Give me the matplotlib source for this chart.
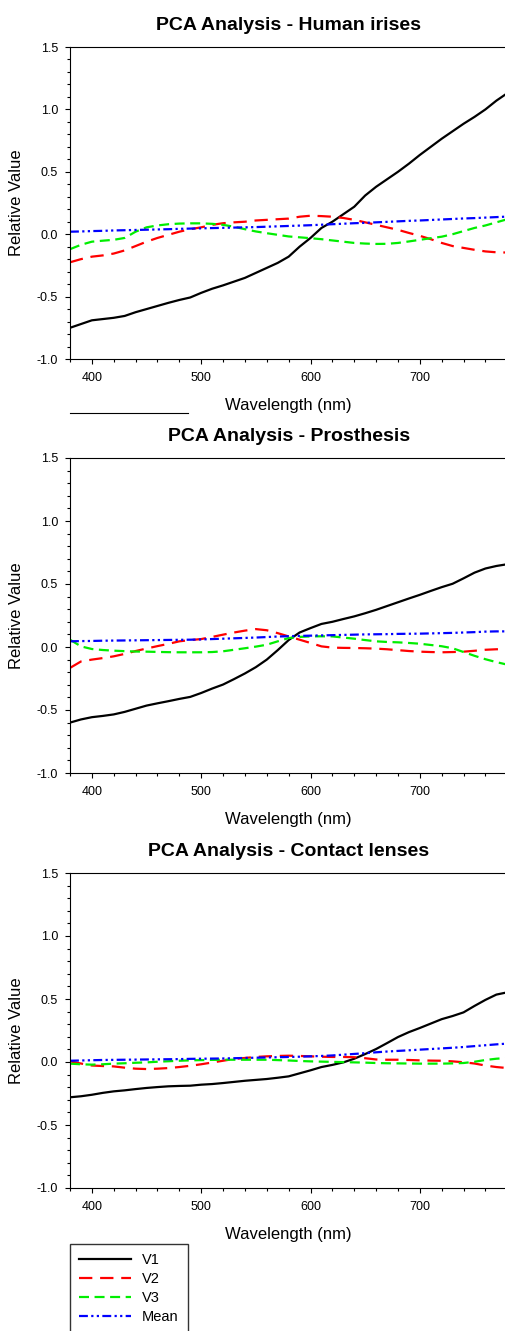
import matplotlib
matplotlib.use('Agg')
import matplotlib.pyplot as plt
from matplotlib.lines import Line2D
from matplotlib.ticker import MultipleLocator

plt.rcParams['font.family'] = ['Liberation Sans', 'DejaVu Sans']

wavelength = list(range(380, 781, 10))

# Human irises
iris_v1 = [-0.75, -0.72, -0.69, -0.68, -0.67, -0.655, -0.625, -0.60, -0.575, -0.55,
           -0.527, -0.507, -0.47, -0.437, -0.41, -0.38, -0.35, -0.31, -0.27, -0.23,
           -0.18, -0.10, -0.03, 0.05, 0.10, 0.16, 0.22, 0.31, 0.38, 0.44,
           0.50, 0.565, 0.635, 0.70, 0.765, 0.825, 0.885, 0.94, 1.00, 1.07, 1.13]
iris_v2 = [-0.225, -0.20, -0.18, -0.17, -0.155, -0.13, -0.095, -0.06, -0.03, -0.005,
           0.02, 0.04, 0.055, 0.075, 0.088, 0.095, 0.10, 0.11, 0.115, 0.12,
           0.125, 0.14, 0.148, 0.145, 0.14, 0.13, 0.115, 0.095, 0.075, 0.055,
           0.035, 0.01, -0.013, -0.04, -0.07, -0.095, -0.11, -0.125, -0.138, -0.145, -0.147]
iris_v3 = [-0.12, -0.085, -0.06, -0.052, -0.045, -0.03, 0.02, 0.055, 0.07, 0.08,
           0.085, 0.087, 0.087, 0.083, 0.075, 0.06, 0.04, 0.022, 0.008, -0.005,
           -0.018, -0.025, -0.032, -0.04, -0.05, -0.06, -0.07, -0.075, -0.078, -0.077,
           -0.07, -0.058, -0.045, -0.032, -0.02, 0.0, 0.025, 0.05, 0.07, 0.095, 0.12]
iris_mean = [0.020, 0.022, 0.025, 0.027, 0.030, 0.032, 0.034, 0.036, 0.038, 0.040,
             0.043, 0.045, 0.047, 0.049, 0.051, 0.053, 0.055, 0.057, 0.060, 0.063,
             0.066, 0.069, 0.072, 0.076, 0.080, 0.084, 0.088, 0.091, 0.095, 0.099,
             0.103, 0.107, 0.110, 0.114, 0.118, 0.122, 0.126, 0.129, 0.133, 0.137, 0.141]

# Prosthesis
pros_v1 = [-0.60, -0.575, -0.557, -0.547, -0.535, -0.515, -0.49, -0.465, -0.447, -0.43,
           -0.412, -0.396, -0.365, -0.33, -0.298, -0.255, -0.21, -0.16, -0.10, -0.025,
           0.055, 0.115, 0.15, 0.183, 0.20, 0.222, 0.243, 0.268, 0.295, 0.325,
           0.355, 0.385, 0.414, 0.445, 0.475, 0.502, 0.545, 0.59, 0.623, 0.643, 0.657]
pros_v2 = [-0.166, -0.115, -0.10, -0.088, -0.074, -0.055, -0.032, -0.012, 0.007, 0.025,
           0.045, 0.055, 0.063, 0.08, 0.098, 0.115, 0.13, 0.142, 0.133, 0.11,
           0.084, 0.058, 0.032, 0.005, -0.005, -0.007, -0.008, -0.01, -0.013, -0.018,
           -0.025, -0.032, -0.037, -0.04, -0.042, -0.04, -0.037, -0.03, -0.022, -0.018, -0.016]
pros_v3 = [0.058, 0.005, -0.016, -0.024, -0.029, -0.033, -0.036, -0.037, -0.039, -0.041,
           -0.042, -0.042, -0.042, -0.04, -0.034, -0.022, -0.01, 0.003, 0.018, 0.045,
           0.071, 0.08, 0.084, 0.085, 0.084, 0.075, 0.066, 0.055, 0.045, 0.04,
           0.037, 0.032, 0.026, 0.016, 0.006, -0.01, -0.04, -0.07, -0.097, -0.12, -0.14]
pros_mean = [0.045, 0.047, 0.048, 0.050, 0.051, 0.052, 0.053, 0.054, 0.055, 0.056,
             0.057, 0.058, 0.060, 0.063, 0.066, 0.069, 0.072, 0.075, 0.079, 0.083,
             0.086, 0.088, 0.090, 0.092, 0.094, 0.096, 0.098, 0.100, 0.101, 0.102,
             0.104, 0.105, 0.106, 0.108, 0.110, 0.112, 0.115, 0.118, 0.122, 0.124, 0.124]

# Contact lenses
lens_v1 = [-0.28, -0.272, -0.26, -0.245, -0.233, -0.225, -0.215, -0.206, -0.199, -0.193,
           -0.19, -0.188, -0.18, -0.175, -0.167, -0.158, -0.149, -0.142, -0.135, -0.125,
           -0.114, -0.09, -0.066, -0.04, -0.023, -0.003, 0.026, 0.063, 0.103, 0.15,
           0.198, 0.237, 0.27, 0.305, 0.34, 0.365, 0.394, 0.445, 0.493, 0.535, 0.553]
lens_v2 = [0.005, -0.012, -0.028, -0.032, -0.035, -0.045, -0.053, -0.056, -0.053, -0.048,
           -0.04, -0.03, -0.018, -0.004, 0.01, 0.024, 0.032, 0.04, 0.045, 0.048,
           0.05, 0.048, 0.045, 0.042, 0.04, 0.04, 0.038, 0.03, 0.02, 0.018,
           0.018, 0.016, 0.013, 0.011, 0.01, 0.005, -0.002, -0.012, -0.028, -0.04, -0.048]
lens_v3 = [-0.013, -0.018, -0.021, -0.018, -0.013, -0.01, -0.006, -0.003, 0.002, 0.006,
           0.01, 0.013, 0.015, 0.017, 0.018, 0.018, 0.018, 0.018, 0.018, 0.015,
           0.012, 0.008, 0.005, 0.003, 0.001, -0.001, -0.003, -0.005, -0.008, -0.01,
           -0.011, -0.012, -0.013, -0.013, -0.013, -0.011, -0.008, 0.002, 0.016, 0.026, 0.032]
lens_mean = [0.010, 0.012, 0.014, 0.016, 0.017, 0.018, 0.019, 0.020, 0.021, 0.022,
             0.023, 0.025, 0.026, 0.027, 0.028, 0.030, 0.032, 0.034, 0.036, 0.038,
             0.040, 0.042, 0.045, 0.048, 0.052, 0.058, 0.064, 0.070, 0.077, 0.083,
             0.088, 0.093, 0.098, 0.103, 0.108, 0.113, 0.119, 0.126, 0.133, 0.140, 0.146]

titles = ['PCA Analysis - Human irises', 'PCA Analysis - Prosthesis',
          'PCA Analysis - Contact lenses']
panels = [(iris_v1, iris_v2, iris_v3, iris_mean),
          (pros_v1, pros_v2, pros_v3, pros_mean),
          (lens_v1, lens_v2, lens_v3, lens_mean)]
labels = ['V1', 'V2', 'V3', 'Mean']

styles = [dict(color='black', ls='-'),
          dict(color='#ff0000', dashes=(6, 3.5)),
          dict(color='#00ee00', dashes=(4.5, 2.5)),
          dict(color='#0000ff', dashes=(4, 1.5, 1, 1.5, 1, 1.5))]

W, H = 505, 1331
fig = plt.figure(figsize=(W / 100, H / 100), dpi=100)

# axes boxes in pixels: (top, bottom)
boxes = [(47, 359), (458, 773), (873, 1188)]
left_px, right_px = 70, 507.3

for (top, bot), title, series in zip(boxes, titles, panels):
    ax = fig.add_axes([left_px / W, 1 - bot / H, (right_px - left_px) / W, (bot - top) / H])
    handles = []
    for y, lab, st in zip(series, labels, styles):
        h, = ax.plot(wavelength, y, lw=1.6, label=lab, **st)
        handles.append(h)
    ax.set_xlim(380, 780)
    ax.set_ylim(-1.0, 1.5)
    ax.xaxis.set_major_locator(MultipleLocator(100))
    ax.xaxis.set_minor_locator(MultipleLocator(20))
    ax.yaxis.set_major_locator(MultipleLocator(0.5))
    ax.yaxis.set_minor_locator(MultipleLocator(0.1))
    ax.yaxis.set_major_formatter(matplotlib.ticker.FormatStrFormatter('%.1f'))
    ax.tick_params(which='major', direction='out', length=3.5, width=0.8,
                   labelsize=9, pad=5)
    ax.tick_params(which='minor', direction='out', length=2, width=0.8)
    ax.tick_params(axis='x', pad=6)
    for sp in ax.spines.values():
        sp.set_linewidth(0.8)
    ax.set_title(title, fontsize=14, fontweight='bold', pad=12)
    ax.set_xlabel('Wavelength (nm)', fontsize=12, labelpad=10)
    ax.set_ylabel('Relative Value', fontsize=12, labelpad=9)

fig.legend(handles, labels, loc='upper left',
           bbox_to_anchor=(left_px / W, 1 - 1244 / H), fontsize=10.5,
           frameon=True, fancybox=False, edgecolor='#333333', framealpha=1,
           handlelength=3.55, handletextpad=0.8, borderpad=0.6, labelspacing=0.35,
           borderaxespad=0)

# stray frame edge under the top panel
fig.add_artist(Line2D([left_px / W, 188 / W], [1 - 413 / H, 1 - 413 / H],
                      color='black', lw=0.8))

fig.savefig('out.png', dpi=100)
